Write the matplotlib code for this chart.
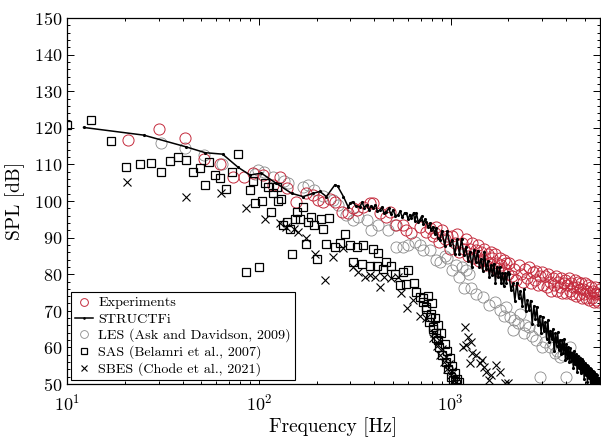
import matplotlib
matplotlib.use("Agg")
import matplotlib.pyplot as plt
from matplotlib.ticker import MultipleLocator, LogLocator, NullFormatter

plt.rcParams['font.family'] = 'cmr10'
plt.rcParams['mathtext.fontset'] = 'cm'
plt.rcParams['axes.formatter.use_mathtext'] = True

# Experiments (red circles)
exp_f = [20.8, 30.1, 41.3, 51.9, 62.7, 73.5, 83.8, 93.3, 104.5, 118.6, 128.5, 140, 157, 176, 192,
         204, 216, 234, 249, 270, 292, 310, 323, 349, 379, 394, 427, 462, 480, 521, 565, 587, 624,
         690, 747, 780, 810, 826, 840, 868,
         900, 930, 960, 990, 1020, 1050, 1080, 1110, 1140, 1170, 1200, 1230, 1260, 1290, 1320, 1350,
         1380, 1410, 1440, 1470, 1500, 1530, 1560, 1590, 1620, 1650, 1680, 1710, 1740, 1770, 1800,
         1830, 1860, 1890, 1920, 1950, 1980,
         2020, 2080, 2140, 2200, 2260, 2320, 2380, 2440, 2500, 2560, 2620, 2680, 2740, 2800, 2860,
         2920, 2980, 3040, 3100, 3160, 3220, 3280, 3340, 3400, 3460, 3520, 3580, 3640, 3700, 3760,
         3820, 3880, 3940, 4000, 4060, 4120, 4180, 4240, 4300, 4360, 4420, 4480, 4540, 4600, 4660,
         4720, 4780, 4840, 4900, 4960, 5020, 5080, 5140, 5200, 5260, 5320, 5380, 5440, 5500, 5560,
         5620, 5680, 5740, 5800, 5860, 5920, 5980]
exp_spl = [116.7, 119.6, 117.1, 111.4, 110.1, 106.5, 106.5, 107.6, 107.1, 104.4, 106.6, 103.5, 99.8, 102.1, 101.6,
           100.3, 99.6, 100.5, 99.8, 97.1, 96.6, 98.0, 97.5, 98.4, 99.4, 99.4, 96.6, 95.7, 97.1, 93.4, 93.4, 92.1, 91.2,
           93.0, 91.6, 92.5, 90.5, 91.2, 93.0, 88.9,
           92.0, 89.5, 90.5, 87.0, 90.5, 88.5, 91.0, 86.0, 88.5, 87.0, 89.5, 85.0, 87.0, 88.5, 84.5, 86.5,
           88.0, 83.5, 86.0, 84.0, 87.0, 82.5, 85.5, 83.0, 86.0, 84.5, 82.0, 85.5, 83.0, 81.0, 84.5,
           82.5, 80.5, 84.0, 81.5, 83.0, 80.0,
           83.0, 79.5, 81.5, 78.5, 82.5, 80.0, 78.0, 81.5, 79.0, 82.0, 77.5, 80.5, 78.5, 81.0, 77.0,
           79.5, 80.5, 77.0, 79.5, 76.5, 80.0, 78.0, 75.5, 79.0, 77.0, 79.5, 75.5, 78.0, 76.5, 79.0,
           75.0, 77.5, 78.5, 75.0, 77.0, 79.0, 75.5, 77.5, 74.5, 76.5, 78.5, 74.0, 76.5, 78.0, 74.5,
           76.0, 77.5, 73.5, 76.0, 74.5, 77.5, 73.5, 75.5, 77.0, 73.0, 75.0, 76.5, 73.5, 75.5, 72.5,
           74.5, 76.5, 73.0, 75.0, 72.5, 74.5, 76.0]

# STRUCTFi (line with small dots)
str_f = [12.2, 25.1, 41.7, 52.5, 64.7, 78, 89.8, 103, 123.5, 148, 170, 192, 208, 225, 249, 257, 276, 292,
         300, 310, 320, 336, 345, 355, 364, 375, 385, 394, 405, 415, 427, 438, 450, 462, 475, 488, 501,
         515, 532, 545, 560, 575, 588, 600, 612, 624, 640, 650, 663, 677, 690, 705, 720, 733, 747, 760,
         778, 790, 809, 825, 840, 855, 877,
         900, 930, 960, 990, 1020, 1050, 1080, 1110, 1140, 1170, 1200, 1230, 1260, 1290, 1320, 1350,
         1380, 1410, 1440, 1470, 1500, 1530, 1560, 1590, 1620, 1650, 1680, 1710, 1740, 1770, 1800,
         1830, 1860, 1890, 1920, 1950, 1980,
         2010, 2060, 2110, 2160, 2210, 2260, 2310, 2360, 2410, 2460, 2510, 2560, 2610, 2660, 2710,
         2760, 2810, 2860, 2910, 2960, 3010, 3060, 3110, 3160, 3210, 3260, 3310, 3360, 3410, 3460,
         3510, 3560, 3610, 3660, 3710, 3760, 3810, 3860, 3910, 3960, 4010, 4060, 4110, 4160, 4210,
         4260, 4310, 4360, 4410, 4460, 4510, 4560, 4610, 4660, 4710, 4760, 4810, 4860, 4910, 4960,
         5010, 5060, 5110, 5160, 5210, 5260, 5310, 5360, 5410, 5460, 5510, 5560, 5610, 5660, 5710,
         5760, 5810, 5860, 5910, 5960]
str_spl = [120.1, 118.0, 114.8, 113.2, 112.8, 109.2, 107.1, 107.6, 104.8, 102.1, 101.2, 102.1, 102.6, 101.2,
           104.4, 104.1, 101.2, 98.4,
           99.5, 99.8, 98.6, 98.4, 99.6, 98.2, 98.9, 97.6, 98.6, 98.0, 98.9, 97.2, 97.5, 98.3, 96.6, 97.1,
           98.0, 96.4, 97.5, 96.0, 96.2, 97.2, 95.5, 96.8, 96.6, 95.0, 96.3, 95.3, 96.8, 94.5, 96.6, 94.2,
           94.8, 95.8, 93.6, 95.0, 94.3, 92.8, 93.9, 92.0, 93.0, 91.0, 92.5, 90.0, 89.3,
           91.8, 87.8, 91.8, 87.9, 89.4, 85.5, 89.5, 85.6, 89.7, 85.3, 87.4, 83.6, 86.2, 81.9, 86.5, 83.2,
           86.4, 82.0, 84.2, 80.9, 86.1, 81.3, 83.5, 79.2, 82.5, 79.7, 82.9, 77.7, 81.9, 79.2, 81.9,
           77.7, 80.4, 76.7, 80.4, 77.7, 80.5,
           80.0, 75.7, 77.5, 72.8, 77.7, 73.5, 75.3, 71.4, 75.9, 69.9, 72.9, 70.3, 72.8, 66.4, 71.3,
           67.7, 71.1, 66.0, 68.5, 64.0, 68.4, 64.4, 66.9, 62.4, 67.4, 61.4, 64.6, 62.3, 65.0, 59.1,
           63.8, 60.5, 64.1, 59.3, 62.0, 58.2, 61.9, 58.6, 62.3, 56.5, 60.8, 57.0, 60.2, 55.9, 59.7,
           56.4, 58.6, 54.4, 59.1, 55.4, 58.1, 53.4, 57.6, 54.4, 57.1, 52.9, 56.7, 53.4, 56.2, 51.5,
           55.7, 52.5, 55.3, 50.6, 54.8, 51.6, 54.4, 50.2, 54.0, 50.8, 53.6, 49.4, 53.2, 50.0, 52.8,
           49.6, 52.4, 49.2, 51.5, 49.3]

# LES (Ask and Davidson, 2009), grey circles
les_f = [31, 41.3, 51.9, 64, 96, 99.4, 107, 118, 136, 142, 170, 181, 195, 215, 243, 260, 284, 310, 330,
         364, 386, 418, 472, 511, 521, 565, 600, 650, 690, 718, 778, 842, 877, 930, 960, 1020, 1060,
         1110, 1150, 1177, 1200, 1240, 1280, 1350, 1470, 1590, 1700, 1800, 1900, 1950, 2028, 2100,
         2150, 2240, 2300, 2400, 2450, 2550, 2650, 2800, 2900, 2930, 3000, 3100, 3280, 3400, 3500,
         3600, 3700, 3850, 4000, 4170, 4300, 4500]
les_spl = [115.8, 114.4, 112.6, 110.0, 107.5, 108.5, 108.0, 106.5, 105.5, 105.0, 103.9, 104.4, 103.0, 101.5,
           100.3, 99.0, 96.2, 94.8, 95.5, 94.8, 92.1, 93.4, 92.1, 93.4, 87.5, 87.3, 88.0, 88.9, 88.0, 86.6,
           86.6, 83.9, 83.4, 85.0, 84.5, 81.1, 82.5, 79.3, 82.0, 76.1, 81.1, 80.0, 76.1, 74.5, 73.9, 71.6,
           72.5, 70.2, 68.5, 71.0, 68.4, 64.8, 67.5, 66.6, 69.0, 63.8, 66.0, 65.5, 63.0, 62.0, 65.0, 51.9,
           60.0, 61.5, 60.2, 61.0, 58.5, 59.0, 57.5, 58.0, 52.0, 60.2, 57.5, 56.6]

# SAS (Belamri et al., 2007), squares
sas_f = [10, 13.4, 16.9, 20.3, 23.9, 27.3, 31.0, 34.5, 38.0, 41.8, 45.3, 49.1, 52.5, 55.3, 59.4, 63.1,
         67.3, 72.1, 78, 85.3, 89.8, 92.7, 95.3, 100.5, 103.3, 107.4, 111.8, 115.1, 117.8, 125, 126, 131,
         134, 140, 145, 148, 154, 158, 164, 170, 176, 181, 187, 194, 200, 212, 216, 223, 232, 249, 264,
         281, 300, 310, 323, 343, 349, 379, 394, 413, 418, 444, 459, 491, 511, 542, 565, 587, 600, 644,
         663, 690, 718, 747, 778, 809, 842, 859,
         720, 760, 800, 740, 790, 830, 770, 860, 810, 890, 840, 930, 870, 960, 900, 990, 940, 1020, 970,
         1050, 1000, 1080, 1030, 1100, 1060]
sas_spl = [120.8, 122.1, 116.4, 109.4, 110.2, 110.4, 107.9, 110.8, 112.1, 111.3, 107.9, 109.1, 104.4, 110.6,
           107.1, 106.2, 103.2, 107.8, 112.8, 80.5, 103.0, 105.6, 99.5, 81.9, 100.1, 105.0, 103.9, 96.9, 102.3,
           103.9, 100.0, 100.5, 93.4, 94.3, 92.3, 85.6, 95.2, 97.1, 95.0, 98.3, 88.3, 94.3, 95.5, 93.4, 84.1,
           95.2, 92.3, 88.3, 95.4, 87.3, 88.4, 91.0, 88.1, 83.4, 87.3, 82.8, 88.1, 82.2, 86.8, 82.2, 85.7,
           81.3, 83.4, 82.2, 80.1, 77.0, 80.7, 77.3, 81.1, 77.5, 75.2, 73.9, 72.5, 71.1, 68.4, 65.7, 63.8, 62.0,
           73.5, 74.0, 72.0, 70.5, 69.0, 68.0, 67.0, 66.0, 65.0, 64.0, 62.5, 61.0, 60.0, 59.0, 58.0, 57.0,
           56.0, 55.0, 54.0, 53.0, 52.0, 51.5, 51.0, 50.5, 50.0]

# SBES (Chode et al., 2021), crosses
sbes_f = [20.5, 41.8, 63.3, 85.3, 107.4, 129, 138, 152, 160, 176, 196, 221, 243, 276, 310, 328, 356, 379,
          402, 427, 451, 491, 532, 552, 590, 637, 690, 747, 809, 820, 850, 870, 880, 900, 920, 940, 960,
          980, 1000, 1020, 1040, 1070, 1160, 1190, 1200, 1230, 1256, 1280, 1290, 1360, 1420, 1450,
          1500, 1530, 1590, 1620, 1730, 1800, 1930, 1990]
sbes_spl = [105.1, 101.0, 102.1, 98.0, 95.0, 93.9, 92.8, 92.3, 91.5, 89.8, 85.5, 78.4, 84.8, 87.1, 81.9,
            80.7, 79.3, 79.8, 79.3, 76.6, 79.2, 78.9, 79.2, 74.8, 70.8, 73.0, 68.6, 68.0, 62.5, 64.0, 60.5,
            62.0, 58.0, 59.5, 56.0, 57.5, 54.0, 55.5, 52.5, 53.5, 51.0, 50.5, 60.2, 65.7, 60.7, 62.9, 55.7,
            61.6, 58.4, 57.9, 55.7, 56.5, 54.7, 53.4, 51.1, 52.5, 55.2, 53.4, 50.3, 50.4]

red = '#c42a3c'
grey = '#8a8a8a'

fig = plt.figure(figsize=(6.01, 4.40), dpi=100)
ax = fig.add_axes([67 / 601, 56 / 440, 533 / 601, 366 / 440])

h_exp, = ax.plot(exp_f, exp_spl, 'o', ms=8, mfc='none', mec=red, mew=0.7, zorder=2)
h_les, = ax.plot(les_f, les_spl, 'o', ms=8, mfc='none', mec=grey, mew=0.6, zorder=1)
h_sas, = ax.plot(sas_f, sas_spl, 's', ms=5.5, mfc='none', mec='black', mew=0.9, zorder=3)
h_sbes, = ax.plot(sbes_f, sbes_spl, 'x', ms=6, mec='black', mew=0.8, zorder=3)
h_str, = ax.plot(str_f, str_spl, '-', color='black', lw=1.1, marker='.', ms=2.5, zorder=4)

ax.set_xscale('log')
ax.set_xlim(10, 6000)
ax.set_ylim(50, 150)
ax.yaxis.set_major_locator(MultipleLocator(10))
ax.yaxis.set_minor_locator(MultipleLocator(2))
ax.xaxis.set_major_locator(LogLocator(base=10))
ax.xaxis.set_minor_locator(LogLocator(base=10, subs=range(2, 10)))
ax.xaxis.set_minor_formatter(NullFormatter())
ax.tick_params(which='both', direction='in', top=True, right=True, labelsize=13, width=0.7)
ax.tick_params(which='major', length=5)
ax.tick_params(which='minor', length=2.5)
ax.tick_params(axis='x', which='major', pad=6)
for s in ax.spines.values():
    s.set_linewidth(0.9)

ax.set_xlabel('Frequency [Hz]', fontsize=14, labelpad=3)
ax.set_ylabel('SPL [dB]', fontsize=14, labelpad=6)

leg = ax.legend([h_exp, h_str, h_les, h_sas, h_sbes],
                ['Experiments', 'STRUCTFi', 'LES (Ask and Davidson, 2009)',
                 'SAS (Belamri et al., 2007)', 'SBES (Chode et al., 2021)'],
                loc='lower left', fontsize=10.2, markerscale=0.7, handlelength=1.3,
                handletextpad=0.35, labelspacing=0.22, borderaxespad=0.25, borderpad=0.3,
                fancybox=False, edgecolor='black', framealpha=1)
leg.get_frame().set_linewidth(0.8)

fig.savefig('out.png', dpi=100)
